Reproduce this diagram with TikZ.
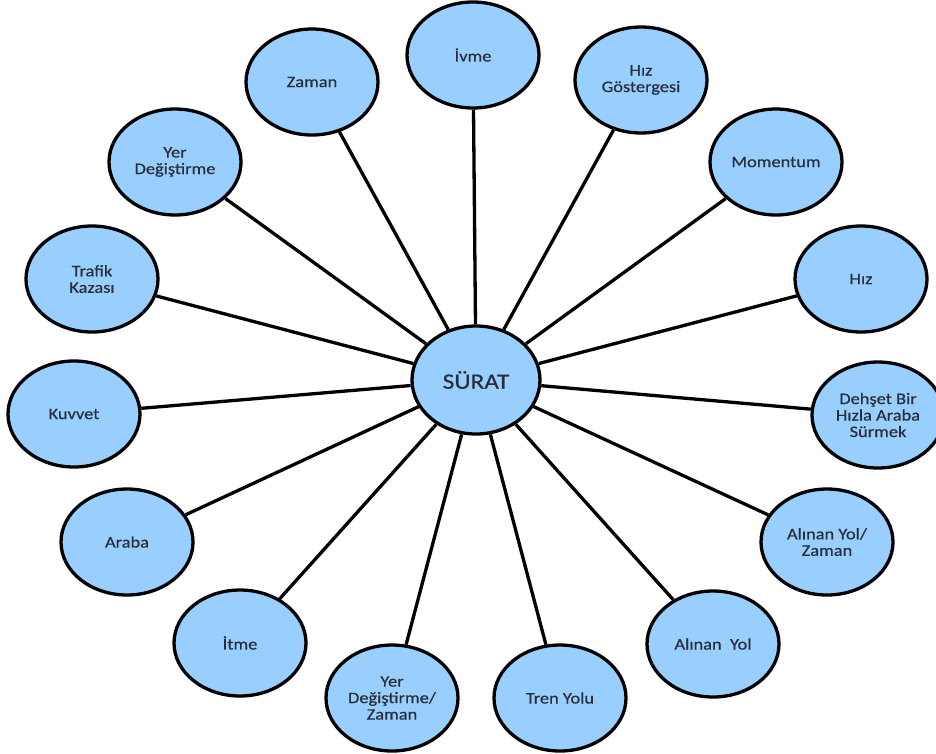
\documentclass[tikz,border=0pt]{standalone}
\usepackage{fontspec}
\setmainfont[FakeStretch=1.15, FakeBold=0.6]{Carlito}
\usetikzlibrary{shapes.geometric}
\definecolor{bubble}{RGB}{153,207,255}
\definecolor{ink}{RGB}{40,46,58}
\tikzset{
  bubble/.style={ellipse, draw=black, line width=3.3pt, fill=bubble,
    minimum width=132pt, minimum height=106pt, inner sep=0pt,
    align=center, text=ink, font=\fontsize{16}{16.5}\selectfont},
  hub/.style={bubble, minimum width=128pt, minimum height=108pt,
    font=\fontsize{22}{24}\selectfont},
  spoke/.style={line width=3.3pt, draw=black}
}
\begin{document}
\begin{tikzpicture}[x=1pt, y=-1pt]
  \useasboundingbox (0,0) rectangle (936,753);
  % hub
  \node[hub] (c) at (476,380) {SÜRAT};
  % ring of concepts, clockwise from the top
  \node[bubble] (ivme)  at (473,55)  {İvme};
  \node[bubble] (gost)  at (641,80)  {Hız\\Göstergesi};
  \node[bubble] (mom)   at (776,162) {Momentum};
  \node[bubble] (hiz)   at (861,279) {Hız};
  \node[bubble] (dehs)  at (878,415) {Dehşet Bir\\Hızla Araba\\Sürmek};
  \node[bubble] (yolz)  at (827,542) {Alınan Yol/\\Zaman};
  \node[bubble] (yol)   at (713,644) {Alınan\ \ Yol};
  \node[bubble] (tren)  at (560,698) {Tren Yolu};
  \node[bubble] (ydz)   at (392,698) {Yer\\Değiştirme/\\Zaman};
  \node[bubble] (itme)  at (240,643) {İtme};
  \node[bubble] (araba) at (127,542) {Araba};
  \node[bubble] (kuv)   at (74,414)  {Kuvvet};
  \node[bubble] (traf)  at (92,279)  {Trafik\\Kazası};
  \node[bubble] (yd)    at (175,162) {Yer\\Değiştirme};
  \node[bubble] (zaman) at (312,82)  {Zaman};
  % spokes
  \foreach \n in {ivme,gost,mom,hiz,dehs,yolz,yol,tren,ydz,itme,araba,kuv,traf,yd,zaman}
    \draw[spoke] (c) -- (\n);
\end{tikzpicture}
\end{document}
